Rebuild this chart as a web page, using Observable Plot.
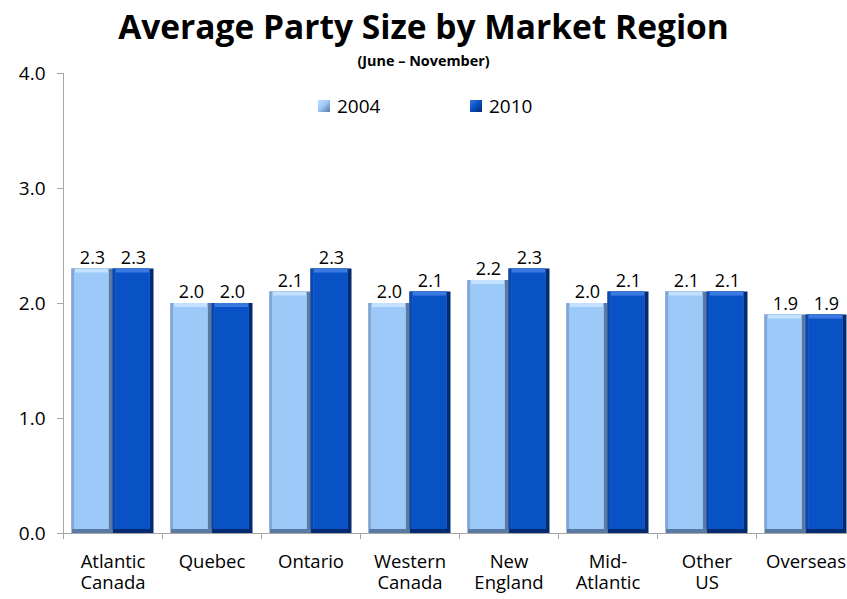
<!DOCTYPE html>
<html>
<head>
<meta charset="utf-8">
<script src="https://cdn.jsdelivr.net/npm/d3@7"></script>
<script src="https://cdn.jsdelivr.net/npm/@observablehq/plot@0.6"></script>
<style>
  html, body { margin: 0; padding: 0; background: #fff; overflow: hidden; }
  #wrap { position: relative; width: 847px; height: 599px; font-family: "Open Sans", sans-serif; }
  #title { position: absolute; left: 0; width: 847px; top: 4px; text-align: center; font-weight: 700; font-size: 33.5px; line-height: 44px; color: #000; }
  #subtitle { position: absolute; left: 0; width: 847px; top: 52px; text-align: center; font-weight: 700; font-size: 14.4px; line-height: 18px; color: #000; }
  #legend { position: absolute; top: 94px; left: 0; width: 847px; height: 24px; font-size: 19px; line-height: 24px; color: #000; }
  .item { position: absolute; top: 0; display: flex; align-items: center; gap: 7px; }
  .sw { width: 12px; height: 12px; display: inline-block; }
  #chart { position: absolute; left: 0; top: 0; }
</style>
</head>
<body>
<div id="wrap">
  <div id="chart"></div>
  <div id="title">Average Party Size by Market Region</div>
  <div id="subtitle">(June – November)</div>
  <div id="legend"></div>
</div>
<script>
// ---- data ----
const regions = ["Atlantic\nCanada", "Quebec", "Ontario", "Western\nCanada", "New\nEngland", "Mid-\nAtlantic", "Other\nUS", "Overseas"];
const years = ["2004", "2010"];
const values2004 = [2.3, 2.0, 2.1, 2.0, 2.2, 2.0, 2.1, 1.9];
const values2010 = [2.3, 2.0, 2.3, 2.1, 2.3, 2.1, 2.1, 1.9];
const yTicks = [0, 1, 2, 3, 4];

const rows = [];
regions.forEach((r, i) => {
  rows.push({region: r, year: years[0], value: values2004[i]});
  rows.push({region: r, year: years[1], value: values2010[i]});
});
const r04 = rows.filter(d => d.year === "2004");
const r10 = rows.filter(d => d.year === "2010");

// colours (bevel layers: dark edge, left edge, top highlight, face)
const pal = {
  "2004": {dark: "#5a7aa3", left: "#7fa7d8", top: "#c2e0ff", face: "#9dc9f8"},
  "2010": {dark: "#042a70", left: "#0a48b0", top: "#3a7ae0", face: "#0852c6"}
};

const W = 847, H = 599;
const mL = 63, mR = -8, mT = 73, mB = 66;
const step = (W - mL - mR) / regions.length; // 99
const outer = 8.5;
const bw = (step - 2 * outer) / 2;

function bevel(data, yr, leftInset, rightInset) {
  const p = pal[yr];
  const base = {x: "region", y: "value"};
  return [
    Plot.barY(data, {...base, fill: p.dark, insetLeft: leftInset, insetRight: rightInset}),
    Plot.barY(data, {...base, fill: p.left, insetLeft: leftInset, insetRight: rightInset + 4, insetBottom: 4}),
    Plot.barY(data, {...base, fill: p.top, insetLeft: leftInset + 3, insetRight: rightInset + 4, insetBottom: 4}),
    Plot.barY(data, {...base, fill: p.face, insetLeft: leftInset + 3, insetRight: rightInset + 4, insetBottom: 4, insetTop: 4})
  ];
}

const chart = Plot.plot({
  width: W,
  height: H,
  marginLeft: mL,
  marginRight: mR,
  marginTop: mT,
  marginBottom: mB,
  style: {fontFamily: "Open Sans", fontSize: "19px", color: "#000", background: "transparent"},
  x: {domain: regions, padding: 0, align: 0.5, label: null},
  y: {domain: [0, 4], label: null},
  marks: [
    Plot.ruleX([regions[0]], {y1: 0, y2: 4, dx: -step / 2, stroke: "#a6a6a6", strokeWidth: 1}),
    Plot.axisY({ticks: yTicks, tickFormat: d => d.toFixed(1), tickSize: 6, tickPadding: 12, stroke: "#a6a6a6", fill: "#000", fontSize: 19, label: null}),
    Plot.axisX({tickSize: 6, text: null, dx: -step / 2, stroke: "#a6a6a6", label: null}),
    Plot.axisX({tickSize: 0, tickPadding: 19, fontSize: 18.5, lineHeight: 1.15, fill: "#000", label: null, textAnchor: "middle"}),
    ...bevel(r04, "2004", outer, outer + bw),
    ...bevel(r10, "2010", outer + bw, outer),
    Plot.ruleY([0], {stroke: "#a6a6a6", strokeWidth: 1.2}),
    Plot.text(r04, {x: "region", y: "value", text: d => d.value.toFixed(1), dx: -bw / 2, dy: -11, fontSize: 18, fill: "#000"}),
    Plot.text(r10, {x: "region", y: "value", text: d => d.value.toFixed(1), dx: bw / 2, dy: -11, fontSize: 18, fill: "#000"})
  ]
});
document.getElementById("chart").appendChild(chart);

// legend
const legend = document.getElementById("legend");
const legendX = {"2004": 318, "2010": 470};
years.forEach(y => {
  const it = document.createElement("div");
  it.className = "item";
  it.style.left = legendX[y] + "px";
  const sw = document.createElement("span");
  sw.className = "sw";
  const p = pal[y];
  sw.style.background = `linear-gradient(135deg, ${p.top} 0%, ${p.face} 45%, ${p.dark} 100%)`;
  const t = document.createElement("span");
  t.textContent = y;
  it.appendChild(sw);
  it.appendChild(t);
  legend.appendChild(it);
});
</script>
</body>
</html>
